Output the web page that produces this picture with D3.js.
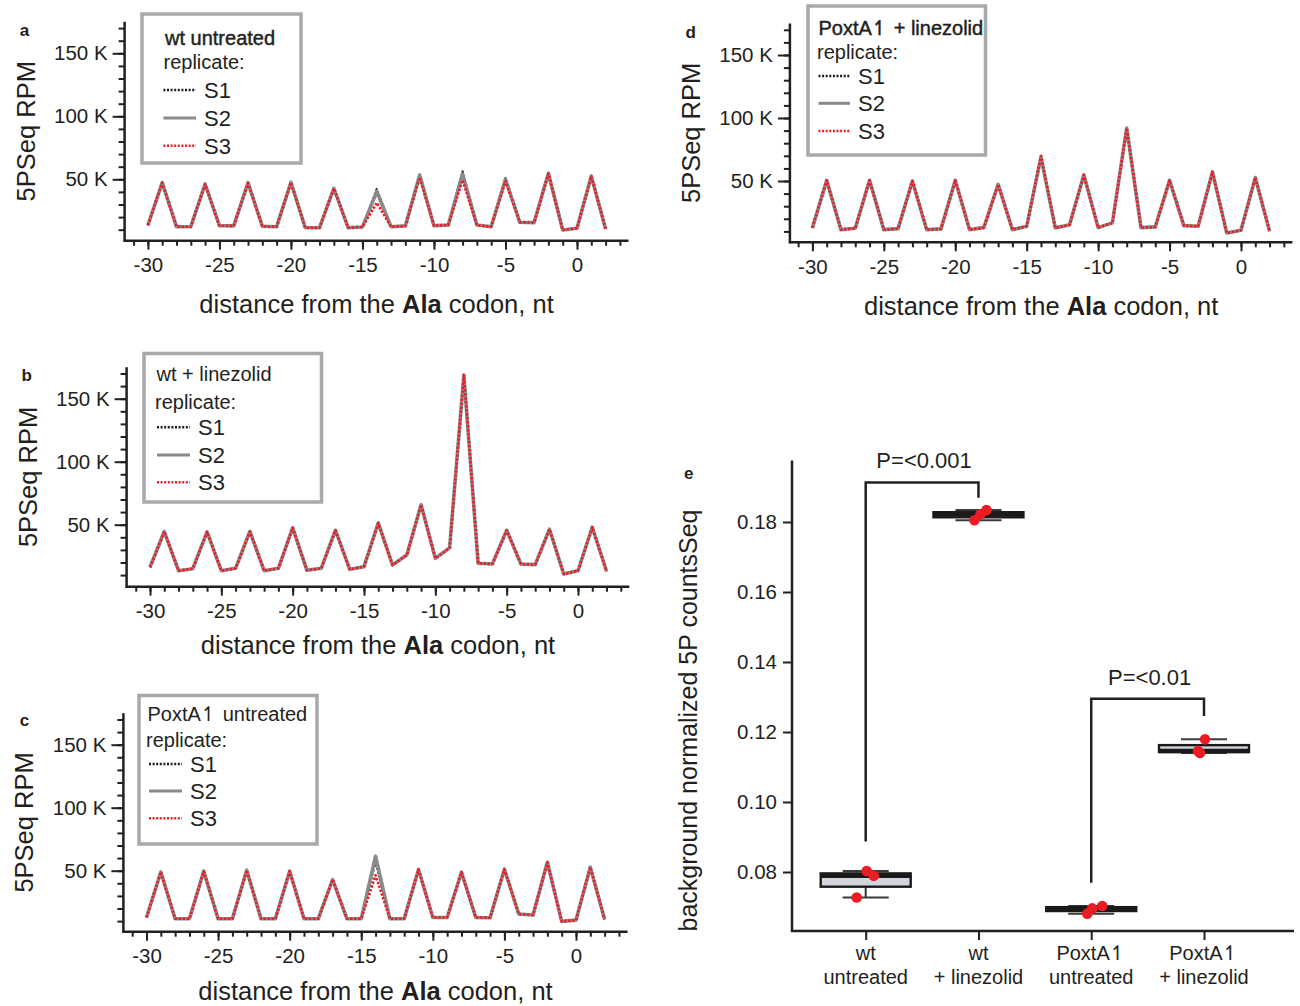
<!DOCTYPE html>
<html><head><meta charset="utf-8">
<script src="https://cdn.jsdelivr.net/npm/d3@7"></script>
<style>
body{margin:0;background:#fff}
svg{display:block}
text{font-family:"Liberation Sans",Arial,Helvetica,sans-serif;fill:#231f20}
</style>
</head><body>
<svg id="c" width="1300" height="1006"></svg>
<script>
// ---------------- DATA ----------------
const positions = [-30,-29,-28,-27,-26,-25,-24,-23,-22,-21,-20,-19,-18,-17,-16,-15,-14,-13,-12,-11,-10,-9,-8,-7,-6,-5,-4,-3,-2,-1,0,1,2];
const xTickMajor = [-30,-25,-20,-15,-10,-5,0];
const xTickMinor = [-31,-30,-29,-28,-27,-26,-25,-24,-23,-22,-21,-20,-19,-18,-17,-16,-15,-14,-13,-12,-11,-10,-9,-8,-7,-6,-5,-4,-3,-2,-1,0,1,2,3];
const yTickMajor = [50,100,150];           // thousands of RPM
const yTickMinor = [10,20,30,40,50,60,70,80,90,100,110,120,130,140,150,160,170];
const replicates = ["S1","S2","S3"];

// panel a: wt untreated (values in K RPM)
const aS1 = [13.5,47.4,12.4,12.4,46.3,13.2,13.0,47.3,12.7,12.4,47.6,11.6,11.6,42.9,11.6,12.2,42.2,12.4,13.0,53.6,13.2,13.7,56.2,13.7,12.4,51.0,15.9,15.6,54.8,9.8,11.1,52.6,10.6];
const aS2 = [13.5,47.4,12.4,12.4,46.3,13.2,13.0,47.3,12.7,12.4,47.6,11.6,11.6,42.9,11.6,12.2,40.2,12.4,13.0,53.4,13.2,13.7,54.2,13.7,12.4,50.0,15.9,15.6,54.8,9.8,11.1,52.6,10.6];
const aS3 = [13.5,47.2,12.4,12.4,46.0,13.2,13.0,47.0,12.7,12.4,47.4,11.6,11.6,42.7,11.6,12.2,31.4,12.4,13.0,51.5,13.2,13.7,49.4,13.7,12.4,48.6,15.9,15.6,54.5,9.8,11.1,52.2,10.6];
// panel b: wt + linezolid
const bS1 = [16.2,44.6,13.5,15.1,44.3,13.5,15.4,44.6,13.5,15.4,47.5,13.8,15.4,45.6,14.6,16.7,51.5,18.0,26.0,65.8,23.3,31.6,168.7,19.4,18.8,45.6,18.8,18.3,46.4,10.9,13.5,48.0,13.0];
const bS2 = [16.2,44.6,13.5,15.1,44.3,13.5,15.4,44.6,13.5,15.4,47.5,13.8,15.4,45.6,14.6,16.7,51.5,18.0,26.0,65.8,23.3,31.6,168.7,19.4,18.8,45.6,18.8,18.3,46.4,10.9,13.5,48.0,13.0];
const bS3 = [16.2,44.6,13.5,15.1,44.3,13.5,15.4,44.6,13.5,15.4,47.5,13.8,15.4,45.6,14.6,16.7,51.0,18.0,26.0,65.8,23.3,31.6,168.7,19.4,18.8,45.6,18.8,18.3,46.4,10.9,13.5,48.0,13.0];
// panel c: PoxtA untreated
const cS1 = [12.9,49.0,11.9,11.9,49.6,11.9,11.9,50.4,11.9,11.9,49.6,11.9,11.9,43.0,11.9,11.9,57.0,11.9,11.9,51.0,12.9,12.9,48.8,12.9,12.7,51.2,15.6,14.8,56.7,9.8,10.8,52.8,11.3];
const cS2 = [12.9,49.0,11.9,11.9,49.6,11.9,11.9,50.4,11.9,11.9,49.6,11.9,11.9,43.0,11.9,11.9,61.5,11.9,11.9,51.0,12.9,12.9,48.8,12.9,12.7,51.2,15.6,14.8,56.7,9.8,10.8,52.8,11.3];
const cS3 = [12.9,49.0,11.9,11.9,49.6,11.9,11.9,50.4,11.9,11.9,49.6,11.9,11.9,43.0,11.9,11.9,46.4,11.9,11.9,51.0,12.9,12.9,48.8,12.9,12.7,51.2,15.6,14.8,56.7,9.8,10.8,52.8,11.3];
// panel d: PoxtA + linezolid
const dS1 = [12.8,50.5,11.4,12.5,50.5,11.4,12.2,50.0,11.4,12.0,50.5,11.4,13.0,47.3,11.4,14.1,68.9,12.8,15.2,54.8,13.0,16.8,92.0,13.0,13.6,50.5,14.6,14.1,57.2,8.8,10.9,52.7,10.1];
const dS2 = [12.8,50.5,11.4,12.5,50.5,11.4,12.2,50.0,11.4,12.0,50.5,11.4,13.0,47.3,11.4,14.1,68.9,12.8,15.2,54.8,13.0,16.8,92.0,13.0,13.6,50.5,14.6,14.1,57.2,8.8,10.9,52.7,10.1];
const dS3 = [12.8,50.5,11.4,12.5,50.5,11.4,12.2,50.0,11.4,12.0,50.5,11.4,13.0,47.3,11.4,14.1,70.0,12.8,15.2,54.8,13.0,16.8,92.0,13.0,13.6,50.5,14.6,14.1,57.2,8.8,10.9,52.7,10.1];

// panel e: background normalized 5P counts
const eCategories = ["wt untreated","wt + linezolid","PoxtA untreated","PoxtA + linezolid"];
const eLabelLine1 = ["wt","wt","PoxtA","PoxtA"];
const eLabelArrow = [false,false,true,true];
const eLabelLine2 = ["untreated","+ linezolid","untreated","+ linezolid"];
const eWtUntreated = [0.0803,0.0789,0.0727];
const eWtLinezolid = [0.1834,0.1822,0.1805];
const ePoxtAUntreated = [0.0703,0.0696,0.0681];
const ePoxtALinezolid = [0.1179,0.1146,0.1140];
const eYTicks = [0.08,0.10,0.12,0.14,0.16,0.18];
const ePLabels = ["P=<0.001","P=<0.01"];
const eBracketPairs = [[0,1],[2,3]];
const eBracketTop = [0.1913,0.1295];
const eBracketLeftEnd = [0.0887,0.0769];
const eBracketRightEnd = [0.1869,0.1246];

// ---------------- LAYOUT ----------------
const ink = "#231f20";
const ARROW = "\u21BF";
const svg = d3.select("#c");

function addLabel(sel, before, arrow, after){
  sel.append("tspan").text(before);
  if(arrow){
    sel.append("tspan").attr("font-family","DejaVu Sans").attr("font-size","1em").attr("dx",-0.5).text(ARROW);
  }
  if(after) sel.append("tspan").text(after);
}

const panels = [
  {letter:"a", title:["wt untreated",false,""], titleBold:true, data:[aS1,aS2,aS3],
   x30:147.9, x0:577, y0:242.3, axisX:124.6, axisY:240.7, titleDy:64, letterPos:[24.5,30],
   legend:{x:142,y:14,w:159,h:149, tx:165, ty:37.5, ry:62, ly:[90,118,145.7], lx0:163.4, lx1:196, sx:204}},
  {letter:"b", title:["wt + linezolid",false,""], titleBold:false, data:[bS1,bS2,bS3],
   x30:150, x0:578, y0:587.7, axisX:126.6, axisY:586.7, titleDy:58.5, letterPos:[26.6,375],
   legend:{x:144,y:353.5,w:177.5,h:148.5, tx:156.5, ty:373.5, ry:401.5, ly:[427.3,455,482.3], lx0:157, lx1:190, sx:198}},
  {letter:"c", title:["PoxtA",true," untreated"], titleBold:false, data:[cS1,cS2,cS3],
   x30:146.5, x0:576, y0:933.7, axisX:123.4, axisY:931.7, titleDy:60, letterPos:[24.5,720],
   legend:{x:139,y:695.5,w:178,h:148.5, tx:147.5, ty:714.3, ry:740, ly:[764,791,818.3], lx0:149, lx1:182, sx:190}},
  {letter:"d", title:["PoxtA",true," + linezolid"], titleBold:true, data:[dS1,dS2,dS3],
   x30:812.4, x0:1241, y0:244, axisX:789.9, axisY:242.3, titleDy:64.4, letterPos:[690.6,32.3],
   legend:{x:808,y:6,w:177.5,h:149, tx:818.5, ty:28.3, ry:52.3, ly:[76,103.3,131], lx0:818.5, lx1:850, sx:858}}
];

const seriesStyle = {
  S1:{stroke:"#1a1a1a", width:2.2, dash:"2 2", off:0},
  S2:{stroke:"#8a8a8a", width:3.6, dash:null, off:0},
  S3:{stroke:"#ee1c25", width:2.6, dash:"2.4 1.6", off:0}
};

function drawLinePanel(p){
  const g = svg.append("g");
  const x = d3.scaleLinear().domain([-30,0]).range([p.x30,p.x0]);
  const y = d3.scaleLinear().domain([0,50]).range([p.y0,p.y0-63]);
  const xRightEnd = x(3.6), yTopEnd = y(175);

  g.append("g").attr("transform",`translate(${p.axisX},0)`)
    .call(d3.axisLeft(y).tickValues(yTickMinor).tickSize(6).tickFormat(""))
    .call(s=>{s.select(".domain").remove(); s.selectAll("line").attr("stroke",ink).attr("stroke-width",2);});
  g.append("g").attr("transform",`translate(${p.axisX},0)`)
    .call(d3.axisLeft(y).tickValues(yTickMajor).tickSize(12).tickPadding(5).tickFormat(d=>d+" K"))
    .call(s=>{s.select(".domain").remove(); s.selectAll("line").attr("stroke",ink).attr("stroke-width",2);
      s.selectAll("text").attr("font-size",20.5).attr("font-family","Liberation Sans, Arial, sans-serif").attr("fill",ink);});
  g.append("g").attr("transform",`translate(0,${p.axisY})`)
    .call(d3.axisBottom(x).tickValues(xTickMinor).tickSize(5).tickFormat(""))
    .call(s=>{s.select(".domain").remove(); s.selectAll("line").attr("stroke",ink).attr("stroke-width",2);});
  g.append("g").attr("transform",`translate(0,${p.axisY})`)
    .call(d3.axisBottom(x).tickValues(xTickMajor).tickSize(9).tickPadding(8).tickFormat(d=>d))
    .call(s=>{s.select(".domain").remove(); s.selectAll("line").attr("stroke",ink).attr("stroke-width",2);
      s.selectAll("text").attr("font-size",20.5).attr("font-family","Liberation Sans, Arial, sans-serif").attr("fill",ink);});
  g.append("line").attr("x1",p.axisX).attr("x2",p.axisX).attr("y1",p.axisY+1).attr("y2",yTopEnd)
    .attr("stroke",ink).attr("stroke-width",2.5);
  g.append("line").attr("x1",p.axisX-1).attr("x2",xRightEnd).attr("y1",p.axisY).attr("y2",p.axisY)
    .attr("stroke",ink).attr("stroke-width",2.5);

  const line = d3.line().x((d,i)=>x(positions[i])).y(d=>y(d));
  [0,1,2].forEach(k=>{
    const st = seriesStyle[replicates[k]];
    g.append("path").datum(p.data[k]).attr("d",line).attr("fill","none")
      .attr("stroke",st.stroke).attr("stroke-width",st.width)
      .attr("stroke-dasharray",st.dash).attr("stroke-dashoffset",st.off)
      .attr("stroke-linejoin","round");
  });

  const xt = g.append("text").attr("x",(p.axisX+xRightEnd)/2).attr("y",p.axisY+p.titleDy+8.5)
    .attr("text-anchor","middle").attr("font-size",25.5);
  xt.append("tspan").text("distance from the ");
  xt.append("tspan").attr("font-weight","bold").text("Ala");
  xt.append("tspan").text(" codon, nt");
  const ymid = (p.axisY+yTopEnd)/2;
  g.append("text").attr("transform",`translate(${p.axisX-90},${ymid}) rotate(-90)`)
    .attr("text-anchor","middle").attr("font-size",25.5).text("5PSeq RPM");
  g.append("text").attr("x",p.letterPos[0]).attr("y",p.letterPos[1]+6).attr("text-anchor","middle")
    .attr("font-size",17).attr("font-weight","bold").text(p.letter);

  const L = p.legend;
  g.append("rect").attr("x",L.x).attr("y",L.y).attr("width",L.w).attr("height",L.h)
    .attr("fill","#fff").attr("stroke","#a7a9ac").attr("stroke-width",3.5);
  const tt = g.append("text").attr("x",L.tx).attr("y",L.ty+7).attr("font-size",20);
  addLabel(tt, p.title[0], p.title[1], p.title[2]);
  if(p.titleBold) tt.attr("stroke",ink).attr("stroke-width",0.45);
  g.append("text").attr("x",L.tx-1.5).attr("y",L.ry+7).attr("font-size",20).text("replicate:");
  replicates.forEach((r,k)=>{
    const st = seriesStyle[r];
    g.append("line").attr("x1",L.lx0).attr("x2",L.lx1).attr("y1",L.ly[k]).attr("y2",L.ly[k])
      .attr("stroke",st.stroke).attr("stroke-width",k===1?3:2.4)
      .attr("stroke-dasharray",k===1?null:"2 1.6");
    g.append("text").attr("x",L.sx).attr("y",L.ly[k]+8).attr("font-size",22).text(r);
  });
}
panels.forEach(drawLinePanel);

// ---------------- PANEL e ----------------
(function(){
  const g = svg.append("g");
  const groups = [eWtUntreated,eWtLinezolid,ePoxtAUntreated,ePoxtALinezolid];
  const jitter = [[1,8,-9],[8,2,-4],[11,1,-4],[1,-6,-4]];
  const x = d3.scalePoint().domain(eCategories).range([865.7,1204]);
  const y = d3.scaleLinear().domain([0.08,0.18]).range([872,522]);
  const axisX = 792, axisY = 931;

  g.append("g").attr("transform",`translate(${axisX},0)`)
    .call(d3.axisLeft(y).tickValues(eYTicks).tickSize(9).tickPadding(6).tickFormat(d3.format(".2f")))
    .call(s=>{s.select(".domain").remove(); s.selectAll("line").attr("stroke",ink).attr("stroke-width",2);
      s.selectAll("text").attr("font-size",20.5).attr("font-family","Liberation Sans, Arial, sans-serif").attr("fill",ink);});
  g.append("g").attr("transform",`translate(0,${axisY})`)
    .call(d3.axisBottom(x).tickSize(9).tickFormat(""))
    .call(s=>{s.select(".domain").remove(); s.selectAll("line").attr("stroke",ink).attr("stroke-width",2);});
  g.append("line").attr("x1",axisX).attr("x2",axisX).attr("y1",axisY+1).attr("y2",460.5).attr("stroke",ink).attr("stroke-width",2.5);
  g.append("line").attr("x1",axisX-1).attr("x2",1294).attr("y1",axisY).attr("y2",axisY).attr("stroke",ink).attr("stroke-width",2.5);

  eCategories.forEach((c,i)=>{
    const t1 = g.append("text").attr("x",x(c)).attr("y",959.5).attr("text-anchor","middle").attr("font-size",20);
    addLabel(t1, eLabelLine1[i], eLabelArrow[i], "");
    g.append("text").attr("x",x(c)).attr("y",984).attr("text-anchor","middle").attr("font-size",20).text(eLabelLine2[i]);
  });

  groups.forEach((vals,i)=>{
    const s = vals.slice().sort(d3.ascending);
    const q1 = d3.quantile(s,0.25), med = d3.quantile(s,0.5), q3 = d3.quantile(s,0.75);
    const lo = s[0], hi = s[s.length-1];
    const cx = x(eCategories[i]);
    const bw = 90, cw = 46;
    g.append("line").attr("x1",cx).attr("x2",cx).attr("y1",y(hi)).attr("y2",y(q3)).attr("stroke","#333").attr("stroke-width",2);
    g.append("line").attr("x1",cx).attr("x2",cx).attr("y1",y(q1)).attr("y2",y(lo)).attr("stroke","#333").attr("stroke-width",2);
    [lo,hi].forEach(v=>g.append("line").attr("x1",cx-cw/2).attr("x2",cx+cw/2).attr("y1",y(v)).attr("y2",y(v))
      .attr("stroke","#3a3a3a").attr("stroke-width",2));
    g.append("rect").attr("x",cx-bw/2).attr("y",y(q3)).attr("width",bw).attr("height",Math.max(0.5,y(q1)-y(q3)))
      .attr("fill","#d3d5dd").attr("stroke","#1a1a1a").attr("stroke-width",2.4);
    g.append("line").attr("x1",cx-bw/2).attr("x2",cx+bw/2).attr("y1",y(med)).attr("y2",y(med))
      .attr("stroke","#1a1a1a").attr("stroke-width",4.5);
    vals.forEach((v,k)=>{
      g.append("circle").attr("cx",cx+jitter[i][k]).attr("cy",y(v)).attr("r",5.3).attr("fill","#ec1c24");
    });
  });

  eBracketPairs.forEach((pr,i)=>{
    const xa = x(eCategories[pr[0]]), xb = x(eCategories[pr[1]]);
    const pts = [[xa,y(eBracketLeftEnd[i])],[xa,y(eBracketTop[i])],[xb,y(eBracketTop[i])],[xb,y(eBracketRightEnd[i])]];
    g.append("path").attr("d",d3.line()(pts)).attr("fill","none").attr("stroke",ink).attr("stroke-width",2.5);
    g.append("text").attr("x",(xa+xb)/2+2).attr("y",y(eBracketTop[i])-14).attr("text-anchor","middle")
      .attr("font-size",22).text(ePLabels[i]);
  });

  g.append("text").attr("transform",`translate(697,720.5) rotate(-90)`).attr("text-anchor","middle")
    .attr("font-size",25).text("background normalized 5P countsSeq");
  g.append("text").attr("x",688.8).attr("y",478.5).attr("text-anchor","middle").attr("font-size",17)
    .attr("font-weight","bold").text("e");
})();
</script>
</body></html>
